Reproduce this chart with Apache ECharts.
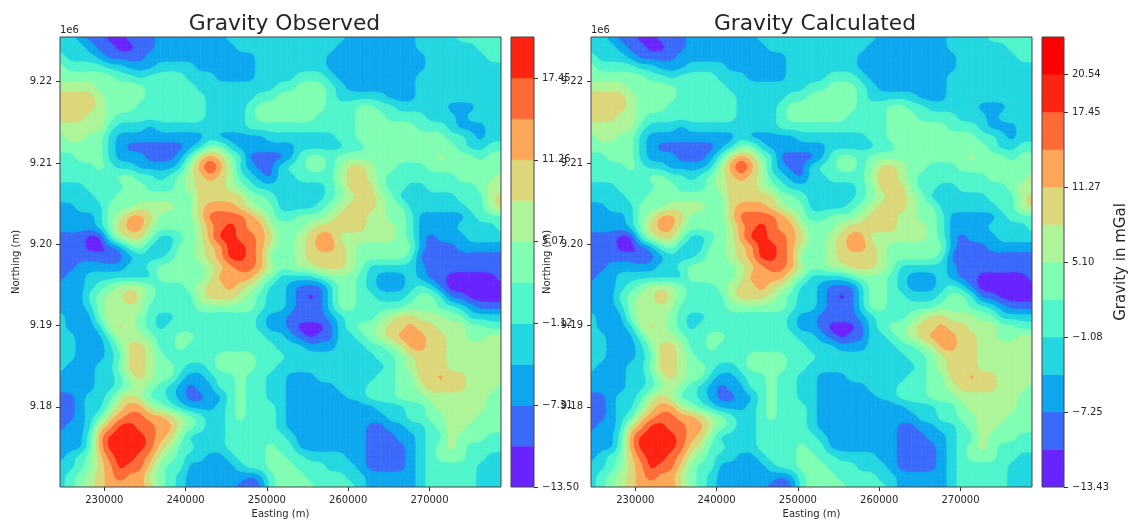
<!DOCTYPE html>
<html>
<head>
<meta charset="utf-8">
<style>html,body{margin:0;padding:0;background:#fff}#c{width:1130px;height:520px}</style>
<script src="https://cdn.jsdelivr.net/npm/echarts@6/dist/echarts.min.js"></script>
</head>
<body>
<div id="c"></div>
<script>
// Contour band read at each node of a survey grid (0..9, A = band index, lowest to highest)
const bandRows = [
"33211 00111 22222 22333 33333 33332 22222 23333 44444",
"33321 10011 22222 22233 33333 33322 22222 23333 33444",
"43332 11112 22222 22222 33333 33222 22222 22333 33344",
"54444 33222 33332 22222 33333 33222 22222 22333 33333",
"55555 54434 44433 32222 33334 44322 22222 23333 33333",
"66665 55554 44443 33333 33445 55432 22222 23333 33333",
"77776 55554 44444 33333 44555 55433 33322 23333 33333",
"77776 55544 44444 33334 55555 55444 55443 33332 22333",
"77766 54444 44444 33334 55555 54444 55544 44333 23333",
"66666 43332 33333 33334 44444 44444 55555 54443 22233",
"56655 32222 22222 32222 23333 33344 55555 55554 43233",
"55555 32111 11123 55322 22223 33334 45555 55555 43344",
"44555 32221 11247 87541 11124 55455 55555 55565 55455",
"44445 43322 22368 A8632 11344 55457 76554 44555 55555",
"44444 45544 34567 87643 21334 44467 76544 44444 55556",
"33344 44554 44567 77654 33333 33457 77544 33444 44566",
"33334 45555 55557 77775 54333 33456 77653 33333 44467",
"22333 55566 66557 88876 55333 34567 77655 33333 34467",
"22223 56887 55557 99998 75445 55677 76655 42222 23444",
"22223 57886 55556 89A98 86555 67777 76665 42222 33334",
"11100 46775 33456 8AA99 87556 78866 66665 42122 23333",
"11100 12453 33556 78AA9 86556 78876 55555 52111 22222",
"11111 01233 34556 78AA9 85456 77776 55555 41111 11111",
"11222 22334 55555 67899 86556 67776 53333 32111 11111",
"12233 33333 55555 68888 65333 34555 43222 32110 00001",
"22234 56665 44456 77876 53321 11355 43222 34310 00000",
"22245 66865 44446 77765 43321 01355 44333 45541 10000",
"22235 66664 44445 55555 43321 11355 44444 55544 32111",
"32225 66654 33444 44444 32211 11234 44567 76665 53333",
"32223 67654 34444 44444 32210 00134 55677 87766 65544",
"33222 46665 44554 44444 43321 01133 45678 88776 65566",
"33222 35776 44544 44444 44333 22233 34456 88776 66666",
"33222 34776 54444 45555 44433 33333 33445 67776 66666",
"32223 35776 55433 45555 44333 33333 33345 67776 66666",
"22223 34676 55322 34454 43322 23333 33445 57787 76666",
"22223 34565 43212 24454 43322 22233 34445 56777 76665",
"11233 46764 43211 22454 43322 22223 34445 55666 66655",
"11233 57886 54322 23454 44322 22221 22333 44566 66655",
"11234 78998 87654 33454 44322 22222 22233 44556 66555",
"12237 8AA99 88654 33444 44322 22222 21122 33456 65555",
"22248 AAAA9 87533 33444 44432 22222 21112 23446 55544",
"22248 AAAA9 76443 33444 45442 22222 21111 23456 54444",
"23457 9AA98 65433 22344 45544 33332 21111 23455 54433",
"33457 8A997 54422 22234 45554 44333 21111 23444 44333",
"34567 89886 54322 22221 24555 44443 32222 23444 44333",
"34567 88887 54322 22211 14555 54444 32222 23444 44333"
];
const observedLevels = [-13.50,-10.405,-7.31,-4.215,-1.12,1.975,5.07,8.165,11.26,14.355,17.45,20.55];
const calculatedLevels = [-13.43,-10.34,-7.25,-4.165,-1.08,2.01,5.10,8.185,11.27,14.36,17.45,20.54,23.63];
const bandColors = ["#6824fe","#3a6af9","#0ca7ef","#23d7e0","#51f5cc","#80ffb4","#aef599","#dcd77a","#ffa759","#ff6a36","#ff2412","#ff0000"];
const observedTicks = [-13.50,-7.31,-1.12,5.07,11.26,17.45];
const calculatedTicks = [-13.43,-7.25,-1.08,5.10,11.27,17.45,20.54];
const eastingTicks = [230000,240000,250000,260000,270000];
const northingTicks = [9180000,9190000,9200000,9210000,9220000];
const eastingRange = [224551,278795];
const northingRange = [9170147,9225498];

const TEXT = '#262626';
const FONT = '"DejaVu Sans"';
const rows = bandRows.map(r => r.replace(/ /g,'').split('').map(ch => ch === 'A' ? 10 : +ch));
const nR = rows.length, nC = rows[0].length;
const stepE = (eastingRange[1]-eastingRange[0])/(nC-1);
const stepN = (northingRange[1]-northingRange[0])/(nR-1);
const SUB = 4, TOP_BAND = 10, MIX = 0.25;

function kernel(t){
  const t2=t*t,t3=t2*t;
  const cr=[(-t3+2*t2-t)/2,(3*t3-5*t2+2)/2,(-3*t3+4*t2+t)/2,(t3-t2)/2];
  const bs=[(1-3*t+3*t2-t3)/6,(4-6*t2+3*t3)/6,(1+3*t+3*t2-3*t3)/6,t3/6];
  return cr.map((v,i)=>MIX*v+(1-MIX)*bs[i]);
}
// contour field in band units at fractional node position, through the node values
function fieldAt(vals,r,c,tr,tc){
  const kr=kernel(tr),kc=kernel(tc);
  let s=0;
  for(let i=0;i<4;i++){
    const rr=Math.min(nR-1,Math.max(0,r+i-1));
    for(let j=0;j<4;j++){
      const cc=Math.min(nC-1,Math.max(0,c+j-1));
      s+=kr[i]*kc[j]*vals[rr][cc];
    }
  }
  return s;
}
function cells(levels){
  const out=[];
  for(let r=0;r<nR-1;r++) for(let c=0;c<nC-1;c++){
    const b=rows[r][c];
    const e0=eastingRange[0]+c*stepE, n0=northingRange[1]-r*stepN;
    out.push([e0,n0,e0+stepE,n0-stepN,(levels[b]+levels[b+1])/2]);
  }
  return out;
}
function contourItem(levels){
  const step=levels[1]-levels[0];
  const vals=rows.map(row=>row.map(b=>((levels[b]+levels[b+1])/2-levels[0])/step));
  return function(params,api){
    const idx=params.dataIndex, r=Math.floor(idx/(nC-1)), c=idx%(nC-1);
    const a=api.coord([api.value(0),api.value(1)]), b=api.coord([api.value(2),api.value(3)]);
    const w=(b[0]-a[0])/SUB,h=(b[1]-a[1])/SUB;
    const S=[]; let mn=99,mx=-99;
    for(let i=0;i<=SUB;i++){ S[i]=[]; for(let j=0;j<=SUB;j++){
      const v=fieldAt(vals,r,c,i/SUB,j/SUB); S[i][j]=v; mn=Math.min(mn,v); mx=Math.max(mx,v);
    }}
    const clampB=v=>Math.max(0,Math.min(TOP_BAND,Math.floor(v)));
    const children=[];
    const add=(pts,k)=>children.push({type:'polygon',z2:k,shape:{points:pts},
      style:{fill:bandColors[k],stroke:bandColors[k],lineWidth:0.6},silent:true});
    if(clampB(mn)===clampB(mx)){
      add([[a[0],a[1]],[b[0],a[1]],[b[0],b[1]],[a[0],b[1]]],clampB(mn));
    } else for(let i=0;i<SUB;i++) for(let j=0;j<SUB;j++){
      const x0=a[0]+j*w,x1=x0+w,y0=a[1]+i*h,y1=y0+h;
      const p=[[x0,y0],[x1,y0],[x1,y1],[x0,y1]];
      const v=[S[i][j],S[i][j+1],S[i+1][j+1],S[i+1][j]];
      const lo=clampB(Math.min.apply(null,v)),hi=clampB(Math.max.apply(null,v));
      add(p,lo);
      for(let k=lo+1;k<=hi;k++){
        const poly=[];
        for(let q=0;q<4;q++){
          const n=(q+1)%4,vi=v[q],vj=v[n];
          if(vi>=k) poly.push(p[q]);
          if((vi>=k)!==(vj>=k)){
            const u=(k-vi)/(vj-vi);
            poly.push([p[q][0]+u*(p[n][0]-p[q][0]),p[q][1]+u*(p[n][1]-p[q][1])]);
          }
        }
        if(poly.length>2) add(poly,k);
      }
    }
    return {type:'group',children};
  };
}
function contourSeries(idx,levels){
  return {type:'custom',xAxisIndex:idx,yAxisIndex:idx,data:cells(levels),renderItem:contourItem(levels),
    clip:true,animation:false,progressive:0,silent:true,encode:{x:[0,2],y:[1,3]}};
}
function barSeries(idx,levels){
  const data=[]; for(let i=0;i<levels.length-1;i++) data.push([0,levels[i],1,levels[i+1],i]);
  return {type:'custom',xAxisIndex:idx,yAxisIndex:idx,data,clip:true,animation:false,silent:true,encode:{x:[0,2],y:[1,3]},
    renderItem(p,api){
      const a=api.coord([api.value(0),api.value(1)]), b=api.coord([api.value(2),api.value(3)]);
      return {type:'rect',shape:{x:a[0],y:b[1],width:b[0]-a[0],height:a[1]-b[1]},
        style:{fill:bandColors[api.value(4)],stroke:bandColors[api.value(4)],lineWidth:0.5},silent:true};
    }};
}
function frameSeries(idx){
  return {type:'custom',xAxisIndex:idx,yAxisIndex:idx,data:[[0]],clip:false,z:20,animation:false,silent:true,
    renderItem(p){
      const s=p.coordSys;
      return {type:'rect',shape:{x:s.x,y:s.y,width:s.width,height:s.height},
        style:{fill:'none',stroke:'#444',lineWidth:1},silent:true};
    }};
}
const tick = {show:true,length:4,lineStyle:{color:'#333',width:1}};
const lbl = {color:TEXT,fontFamily:FONT,fontSize:10,margin:8};
function plotX(){return {type:'value',min:eastingRange[0],max:eastingRange[1],name:'Easting (m)',nameLocation:'middle',nameGap:22,
  nameTextStyle:{color:TEXT,fontFamily:FONT,fontSize:10},splitLine:{show:false},axisLine:{show:false,onZero:false},
  axisTick:Object.assign({customValues:eastingTicks},tick),axisLabel:Object.assign({customValues:eastingTicks,formatter:v=>String(Math.round(v))},lbl)};}
function plotY(){return {type:'value',min:northingRange[0],max:northingRange[1],name:'Northing (m)',nameLocation:'middle',nameGap:39,
  nameTextStyle:{color:TEXT,fontFamily:FONT,fontSize:10},splitLine:{show:false},axisLine:{show:false,onZero:false},
  axisTick:Object.assign({customValues:northingTicks},tick),axisLabel:Object.assign({customValues:northingTicks,formatter:v=>(v/1e6).toFixed(2)},lbl)};}
function barX(){return {type:'value',min:0,max:1,show:false};}
function barY(levels,ticks,name){return {type:'value',position:'right',min:levels[0],max:levels[levels.length-1],
  name:name||'',nameLocation:'middle',nameGap:50,nameRotate:90,nameTextStyle:{color:TEXT,fontFamily:FONT,fontSize:15},
  splitLine:{show:false},axisLine:{show:false,onZero:false},axisTick:Object.assign({customValues:ticks},tick),
  axisLabel:Object.assign({customValues:ticks,formatter:v=>{const s=Math.abs(v).toFixed(2);return (v<0?'\u2212':'')+s;}},lbl)};}

const chart = echarts.init(document.getElementById('c'),null,{renderer:'canvas'});
chart.setOption({
  backgroundColor:'#fff',animation:false,
  title:[
    {text:'Gravity Observed',left:279.5,top:8,textAlign:'center',textStyle:{color:TEXT,fontFamily:FONT,fontSize:21.8,fontWeight:'normal'}},
    {text:'Gravity Calculated',left:810,top:8,textAlign:'center',textStyle:{color:TEXT,fontFamily:FONT,fontSize:21.8,fontWeight:'normal'}},
    {text:'1e6',left:60,top:25,padding:0,textStyle:{color:TEXT,fontFamily:FONT,fontSize:10,fontWeight:'normal'}},
    {text:'1e6',left:591,top:25,padding:0,textStyle:{color:TEXT,fontFamily:FONT,fontSize:10,fontWeight:'normal'}}
  ],
  grid:[
    {left:60,top:37,width:441,height:450,outerBoundsMode:'none'},
    {left:591,top:37,width:441,height:450,outerBoundsMode:'none'},
    {left:511,top:37,width:23,height:450,outerBoundsMode:'none'},
    {left:1042,top:37,width:22,height:450,outerBoundsMode:'none'}
  ],
  xAxis:[
    Object.assign(plotX(),{gridIndex:0}),Object.assign(plotX(),{gridIndex:1}),
    Object.assign(barX(),{gridIndex:2}),Object.assign(barX(),{gridIndex:3})
  ],
  yAxis:[
    Object.assign(plotY(),{gridIndex:0}),Object.assign(plotY(),{gridIndex:1}),
    Object.assign(barY(observedLevels,observedTicks),{gridIndex:2}),
    Object.assign(barY(calculatedLevels,calculatedTicks,'Gravity in mGal'),{gridIndex:3})
  ],
  series:[
    contourSeries(0,observedLevels),contourSeries(1,calculatedLevels),
    barSeries(2,observedLevels),barSeries(3,calculatedLevels),
    frameSeries(0),frameSeries(1),frameSeries(2),frameSeries(3)
  ]
});
</script>
</body>
</html>
